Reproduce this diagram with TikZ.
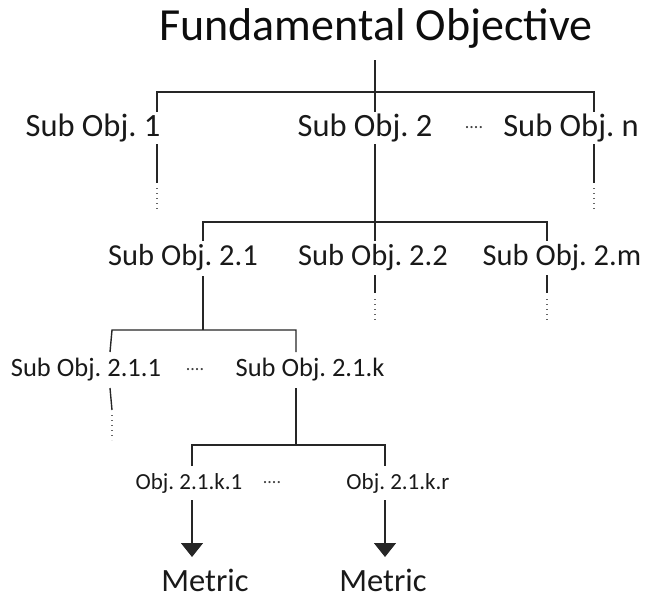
\documentclass[tikz,border=0pt]{standalone}
\usepackage{fontspec}
\setmainfont{Carlito}
\usetikzlibrary{arrows.meta}
\begin{document}
\frenchspacing
\begin{tikzpicture}[x=1pt,y=-1pt,
  ln/.style={line width=1.4pt,black!85},
  dl/.style={line width=1.2pt,black!60,dash pattern=on 1pt off 4pt},
  arr/.style={ln,-{Triangle[width=22pt,length=14pt]}},
  lone/.style={font=\fontsize{32.5}{32}\selectfont,inner sep=0pt,text=black!90},
  ltwo/.style={font=\fontsize{30.5}{30}\selectfont,inner sep=0pt,text=black!90},
  lthree/.style={font=\fontsize{26.5}{26}\selectfont,inner sep=0pt,text=black!90},
  lfour/.style={font=\fontsize{23}{23}\selectfont,inner sep=0pt,text=black!90},
  dots/.style={font=\fontsize{18}{18}\selectfont,inner sep=0pt,text=black!75}]
\useasboundingbox (0,0) rectangle (652,598);
% title
\node[font=\fontsize{46}{46}\selectfont,inner sep=0pt,text=black!95] (title) at (376,28) {Fundamental Objective};
% level 1
\node[lone] (s1) at (93,128) {Sub Obj. 1};
\node[lone] (s2) at (365,128) {Sub Obj. 2};
\node[dots] (d1) at (474,128) {....};
\node[lone] (sn) at (571,128) {Sub Obj. n};
\coordinate (t0) at (375,60);
\coordinate (b1m) at (375,92);
\coordinate (b1l) at (157,92);
\coordinate (b1r) at (594,92);
\coordinate (s1t) at (157,112);
\coordinate (s2t) at (375,112);
\coordinate (snt) at (594,112);
\draw[ln] (t0) -- (b1m);
\draw[ln] (s1t) -- (b1l) -- (b1r) -- (snt);
\draw[ln] (b1m) -- (s2t);
% below level 1
\coordinate (s1b) at (157,144);
\coordinate (s1e) at (157,183);
\coordinate (s1d) at (157,212);
\coordinate (snb) at (594,144);
\coordinate (sne) at (594,183);
\coordinate (snd) at (594,212);
\draw[ln] (s1b) -- (s1e); \draw[dl] (s1e) ++(0,5) -- (s1d);
\draw[ln] (snb) -- (sne); \draw[dl] (sne) ++(0,5) -- (snd);
\coordinate (s2b) at (375,144);
\coordinate (b2m) at (375,222);
\coordinate (b2l) at (203,222);
\coordinate (b2r) at (547,222);
\draw[ln] (s2b) -- (b2m);
% level 2
\node[ltwo] (s21) at (183,258) {Sub Obj. 2.1};
\node[ltwo] (s22) at (373,258) {Sub Obj. 2.2};
\node[ltwo] (s2m) at (562,258) {Sub Obj. 2.m};
\coordinate (s21t) at (203,241);
\coordinate (s22t) at (375,241);
\coordinate (s2mt) at (547,241);
\draw[ln] (s21t) -- (b2l) -- (b2r) -- (s2mt);
\draw[ln] (b2m) -- (s22t);
\coordinate (s22b) at (375,275);
\coordinate (s22e) at (375,293);
\coordinate (s22d) at (375,322);
\coordinate (s2mb) at (547,275);
\coordinate (s2me) at (547,293);
\coordinate (s2md) at (547,322);
\draw[ln] (s22b) -- (s22e); \draw[dl] (s22e) ++(0,6) -- (s22d);
\draw[ln] (s2mb) -- (s2me); \draw[dl] (s2me) ++(0,6) -- (s2md);
\coordinate (s21b) at (203,276);
\coordinate (b3m) at (203,330);
\coordinate (b3l) at (112,330);
\coordinate (b3r) at (296,330);
\draw[ln] (s21b) -- (b3m);
% level 3
\node[lthree] (s211) at (86,370) {Sub Obj. 2.1.1};
\node[dots] (d2) at (195,370) {....};
\node[lthree] (s21k) at (310,370) {Sub Obj. 2.1.k};
\coordinate (s211t) at (110,352);
\coordinate (s21kt) at (296,352);
\draw[ln] (s211t) -- (b3l) -- (b3r) -- (s21kt);
\coordinate (s211b) at (110,388);
\coordinate (s211e) at (112,410);
\coordinate (s211d) at (112,440);
\draw[ln] (s211b) -- (s211e); \draw[dl] (s211e) ++(0,5) -- (s211d);
\coordinate (s21kb) at (296,388);
\coordinate (b4m) at (296,445);
\coordinate (b4l) at (192,445);
\coordinate (b4r) at (385,445);
\draw[ln] (s21kb) -- (b4m);
% level 4
\node[lfour] (o1) at (189,483) {Obj. 2.1.k.1};
\node[dots] (d3) at (272,483) {....};
\node[lfour] (or) at (398,483) {Obj. 2.1.k.r};
\coordinate (o1t) at (192,466);
\coordinate (ort) at (385,466);
\draw[ln] (o1t) -- (b4l) -- (b4r) -- (ort);
% metrics
\node[lone] (m1) at (205,580) {Metric};
\node[lone] (m2) at (383,580) {Metric};
\coordinate (o1b) at (192,500);
\coordinate (orb) at (385,500);
\coordinate (m1t) at (192,557);
\coordinate (m2t) at (385,557);
\draw[arr] (o1b) -- (m1t);
\draw[arr] (orb) -- (m2t);
\end{tikzpicture}
\end{document}
